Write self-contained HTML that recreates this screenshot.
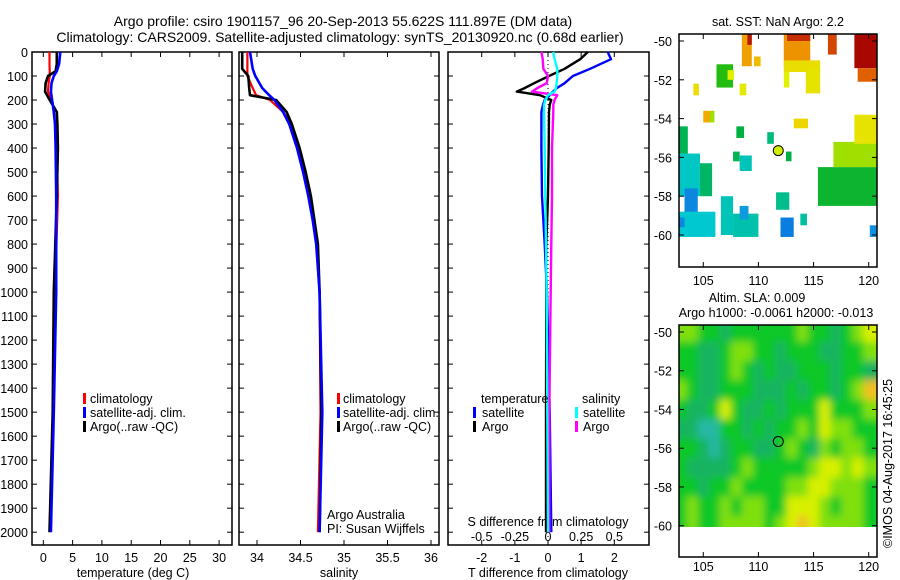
<!DOCTYPE html>
<html><head><meta charset="utf-8"><style>
html,body{margin:0;padding:0;background:#fff}
svg{display:block;font-family:"Liberation Sans",sans-serif}
text{font-size:12.5px;fill:#000}
</style></head><body>
<svg id="fig" width="900" height="580" viewBox="0 0 900 580">
<g id="g"></g>
</svg>
<script>
// ---------- data ----------
const depthT = [0,50,80,100,130,165,200,250,300,400,600,1000,1500,2000];
const tempArgo = [2.3,2.3,2.1,0.8,0.4,0.3,1.1,2.3,2.4,2.5,2.3,1.8,1.6,1.05];
const tempSat  = [2.9,2.7,2.3,1.8,1.4,1.3,1.5,1.8,2.0,2.1,2.2,2.2,1.8,1.3];
const tempClim = [1.05,1.05,1.1,1.1,0.9,0.8,1.5,1.8,2.0,2.3,2.5,2.0,1.7,1.05];
const depthS = [0,70,100,150,180,200,250,300,400,500,600,700,800,1000,1500,2000];
const salArgo = [33.83,33.83,33.9,33.91,33.92,34.22,34.34,34.4,34.49,34.56,34.62,34.66,34.70,34.72,34.74,34.72];
const salSat  = [33.92,33.95,33.98,34.06,34.14,34.2,34.3,34.37,34.46,34.53,34.59,34.64,34.68,34.72,34.75,34.72];
const salClim = [33.89,33.89,33.89,33.95,33.99,34.15,34.3,34.39,34.48,34.55,34.6,34.64,34.68,34.72,34.73,34.70];
const depthD = [0,30,70,100,130,150,165,180,200,220,250,400,600,800,1000,1500,2000];
const dTsat  = [1.8,1.9,1.27,0.75,0.5,0.27,0.15,0.05,-0.1,-0.15,-0.2,-0.2,-0.18,-0.1,-0.03,0.05,0.1];
const dTargo = [1.2,0.97,0.5,0.03,-0.42,-0.7,-0.94,-0.24,0.1,0.05,0.03,0.02,0,-0.05,-0.05,-0.06,-0.06];
const dSsat  = [0.04,0.05,0.07,0.07,0.065,0.06,0.05,0.0,-0.02,-0.03,-0.03,-0.025,-0.02,-0.015,-0.01,-0.005,0];
const dSargo = [-0.05,-0.04,-0.035,0,-0.01,-0.08,-0.12,0.07,0.05,0.04,0.04,0.03,0.03,0.025,0.02,0.01,0.01];
const depthTicks = [0,100,200,300,400,500,600,700,800,900,1000,1100,1200,1300,1400,1500,1600,1700,1800,1900,2000];
const tempTicks = [0,5,10,15,20,25,30];
const salTicks = [34,34.5,35,35.5,36];
const salTickLabels = ["34","34.5","35","35.5","36"];
const dTTicks = [-2,-1,0,1,2];
const dSTicks = [-0.5,-0.25,0,0.25,0.5];
const dSTickLabels = ["-0.5","-0.25","0","0.25","0.5"];
const latTicks = [-50,-52,-54,-56,-58,-60];
const lonTicks = [105,110,115,120];
// SST patches: lon0, lat0, lon1, lat1, value
const sstPatches = [
 [118.7,-49.6,120.7,-51.4,4.6],[119,-51.4,120.7,-52.1,3.8],
 [112.3,-49.6,114.7,-51.3,3.4],[112.6,-49.6,114.7,-50.0,4.2],
 [112.3,-51.0,115.6,-51.6,2.6],[112.3,-51.6,112.8,-52.4,2.3],[114.3,-51.4,115.6,-52.7,2.5],
 [108.5,-49.6,109.4,-51.3,3.3],[109,-49.6,109.4,-50.2,4.4],[109.6,-50.8,110.2,-51.3,3.0],
 [116.3,-49.6,117.1,-50.7,4.0],
 [106.2,-51.2,107.7,-52.4,1.2],[107.2,-51.5,107.8,-52.0,2.3],
 [104.1,-52.2,104.6,-52.8,2.6],[108.3,-52.2,108.9,-52.8,2.4],
 [105.0,-53.6,106.0,-54.2,3.2],[105.6,-53.6,106.0,-54.2,1.8],
 [113.2,-54.0,114.5,-54.5,2.7],
 [108.0,-54.4,108.7,-55.0,0.9],[110.8,-54.7,111.4,-55.3,0.6],[112.5,-55.7,113.0,-56.2,0.9],
 [107.7,-55.7,108.3,-56.2,0.8],[108.3,-55.9,109.4,-56.7,0.2],
 [102.8,-54.4,103.6,-55.9,0.8],
 [102.8,-55.8,104.7,-58.0,0.1],[104.7,-56.3,105.8,-58.0,0.7],[103.3,-57.6,104.5,-59.0,-0.6],
 [102.8,-58.8,106.1,-60.1,0.0],[102.8,-59.1,103.3,-59.6,-0.6],[106.6,-58.0,107.7,-60.0,0.2],
 [107.7,-58.9,110.0,-60.1,0.3],[108.3,-58.5,109.1,-59.2,-0.4],
 [111.6,-57.8,112.8,-58.7,0.5],[112.0,-59.1,113.2,-60.1,-0.7],[113.8,-58.9,114.4,-59.5,0.4],
 [115.4,-56.5,120.7,-58.5,1.0],[116.8,-55.2,120.7,-56.5,1.8],[118.7,-53.8,120.7,-55.3,2.5],
 [120.1,-59.5,120.7,-60.1,-0.5]
];
// SLA grid (rows lat -50..-60, cols lon 103..120), index values
const slaGrid = [
 [ 1, 1, 0, 0,-1, 0, 0, 0, 0, 0, 0, 1, 0, 0,-1, 0, 1, 2],
 [ 0, 0,-1,-1, 0, 1, 1, 0, 0,-1, 0, 0, 0,-1,-1, 0, 0, 1],
 [ 0, 0,-1,-1, 0, 1, 0,-1, 0,-1,-1, 0, 0, 0,-1, 0, 0,-1],
 [ 1, 0,-1,-1, 0, 0, 0,-1,-1,-1, 0,-1, 0, 0,-1, 0, 1, 3],
 [ 0,-1,-1, 0, 2, 0,-1,-1, 0,-1, 0, 0, 0, 2, 0, 0, 0, 1],
 [-1,-1,-2,-2, 0, 0,-1, 0,-1, 0, 0, 1, 0, 2, 1, 1, 0, 0],
 [ 0, 0,-1,-2,-1, 0, 0,-1,-1, 0, 1, 0,-1, 1, 0, 1, 1, 0],
 [ 0,-1,-1,-1,-1, 0, 1, 0, 0, 0, 0, 0, 1, 2, 2, 1, 2, 1],
 [ 0, 0,-1, 0, 0, 1, 0, 0, 0, 0, 1, 1, 2, 2, 1, 1, 1, 0],
 [ 0, 1, 0, 0, 1, 0, 1, 1, 0, 0, 2, 2, 2, 1, 0, 1, 1, 0],
 [ 0, 1, 0, 0, 1, 1, 1, 1, 0, 1, 2, 3, 2, 1, 1, 1, 1, 0]
];
const argoLon = 111.8, argoLat = -55.65, argoSST = 2.2;

// ---------- helpers ----------
const NS="http://www.w3.org/2000/svg";
const G=document.getElementById('g');
function el(tag,attrs,parent){const e=document.createElementNS(NS,tag);for(const k in attrs)e.setAttribute(k,attrs[k]);(parent||G).appendChild(e);return e;}
function txt(s,x,y,anchor,parent,size){const t=el('text',{x:x,y:y,'text-anchor':anchor||'start'},parent);if(size)t.setAttribute('style','font-size:'+size+'px');t.textContent=s;return t;}
const yD = d => 52 + d*0.2401;
const xT = v => 43.3 + v*5.86;
const xS = v => 257 + (v-34)*87;
const xDT = v => 548 + v*33.15;
const xDS = v => 548 + v*132.6;
function frame(x0,y0,x1,y1,name){const r=el('rect',{x:x0,y:y0,width:x1-x0,height:y1-y0,fill:'none',stroke:'#000','stroke-width':1.5});}
function line(xs,ys,fn,col,w,name){const pts=xs.map((v,i)=>fn(v).toFixed(1)+','+yD(ys[i]).toFixed(1)).join(' ');const p=el('polyline',{points:pts,fill:'none',stroke:col,'stroke-width':w,'stroke-linejoin':'round'});}
function depthAxis(x0,x1,labels){depthTicks.forEach(d=>{const y=yD(d);el('line',{x1:x0,y1:y,x2:x0+5,y2:y,stroke:'#000'});el('line',{x1:x1,y1:y,x2:x1-5,y2:y,stroke:'#000'});if(labels){const t=txt(String(d),28,y+5,'end');}});}
function xAxis(vals,labs,fn,yTop,yBot,labelY){vals.forEach((v,i)=>{const x=fn(v);el('line',{x1:x,y1:yBot,x2:x,y2:yBot-5,stroke:'#000'});el('line',{x1:x,y1:yTop,x2:x,y2:yTop+5,stroke:'#000'});if(labelY){const t=txt(labs[i],x,labelY,'middle');}});}
function legendMark(x,y,col){el('rect',{x:x,y:y-10,width:3,height:11,fill:col});}

// ---------- titles ----------
let t=txt('Argo profile: csiro 1901157_96 20-Sep-2013 55.622S 111.897E (DM data)',343,26,'middle',null,14);

t=txt('Climatology: CARS2009. Satellite-adjusted climatology: synTS_20130920.nc (0.68d earlier)',340,42,'middle',null,14);


// ---------- panel 1 temperature ----------
const B=545;
frame(32,52,232,B,'temperature-panel');
depthAxis(32,232,true);
xAxis(tempTicks,tempTicks.map(String),xT,52,B,562);
t=txt('temperature (deg C)',133,577,'middle');
line(tempClim,depthT,xT,'#f00',2.2,'temp-climatology-line');
line(tempArgo,depthT,xT,'#000',2.6,'temp-argo-line');
line(tempSat,depthT,xT,'#00f',2.6,'temp-satellite-line');
[['climatology','#f00'],['satellite-adj. clim.','#00f'],['Argo(..raw -QC)','#000']].forEach((l,i)=>{legendMark(83,403+i*14,l[1]);const tt=txt(l[0],90,403+i*14);});

// ---------- panel 2 salinity ----------
frame(239,52,439,B,'salinity-panel');
depthAxis(239,439,false);
xAxis(salTicks,salTickLabels,xS,52,B,562);
t=txt('salinity',339,577,'middle');
line(salClim,depthS,xS,'#f00',2.2,'sal-climatology-line');
line(salArgo,depthS,xS,'#000',2.6,'sal-argo-line');
line(salSat,depthS,xS,'#00f',2.6,'sal-satellite-line');
[['climatology','#f00'],['satellite-adj. clim.','#00f'],['Argo(..raw -QC)','#000']].forEach((l,i)=>{legendMark(337,403+i*14,l[1]);const tt=txt(l[0],343,403+i*14);});
t=txt('Argo Australia',327,519);
t=txt('PI: Susan Wijffels',327,533);

// ---------- panel 3 differences ----------
frame(448,52,649,B,'difference-panel');
depthAxis(448,649,false);
xAxis(dTTicks,dTTicks.map(String),xDT,52,B,562);
dSTicks.forEach((v,i)=>{const tt=txt(dSTickLabels[i],xDS(v),541,'middle');});
t=txt('S difference from climatology',548,526,'middle');
t=txt('T difference from climatology',548,577,'middle');
el('line',{x1:xDT(0),y1:52,x2:xDT(0),y2:B,stroke:'#000','stroke-dasharray':'1,3'});
line(dTargo,depthD,xDT,'#000',2.4,'dt-argo-line');
line(dTsat,depthD,xDT,'#00f',2.4,'dt-satellite-line');
line(dSargo,depthD,xDS,'#f0f',2.4,'ds-argo-line');
line(dSsat,depthD,xDS,'#0ff',2.4,'ds-satellite-line');
t=txt('temperature',481,403);
t=txt('salinity',582,403);
[['satellite','#00f',473,482],['Argo','#000',473,482],['satellite','#0ff',575,583],['Argo','#f0f',575,583]].forEach((l,i)=>{const y=417+(i%2)*14;legendMark(l[2],y,l[1]);const tt=txt(l[0],l[3],y);});

// ---------- maps ----------
const mx = lon => 679 + (lon-102.8)*11.03;
const sstStops=[[-1,[0,96,224]],[-0.5,[16,144,224]],[0,[0,200,208]],[0.4,[0,192,160]],[0.9,[0,176,64]],[1.3,[48,192,0]],[1.8,[160,224,0]],[2.3,[224,240,0]],[2.8,[240,208,0]],[3.3,[240,160,0]],[3.8,[224,96,0]],[4.3,[192,32,0]],[4.7,[160,0,0]]];
function sstColor(v){if(v<=sstStops[0][0])return 'rgb('+sstStops[0][1].join(',')+')';for(let i=1;i<sstStops.length;i++){if(v<=sstStops[i][0]){const a=sstStops[i-1],b=sstStops[i],f=(v-a[0])/(b[0]-a[0]);return 'rgb('+a[1].map((c,k)=>Math.round(c+(b[1][k]-c)*f)).join(',')+')';}}return 'rgb('+sstStops[sstStops.length-1][1].join(',')+')';}
function mapAxes(top,bot,my,lonLabelY){
 latTicks.forEach(l=>{const y=my(l);el('line',{x1:679,y1:y,x2:684,y2:y,stroke:'#000'});el('line',{x1:877,y1:y,x2:872,y2:y,stroke:'#000'});const tt=txt(String(l),672,y+5,'end');});
 lonTicks.forEach(l=>{const x=mx(l);el('line',{x1:x,y1:bot,x2:x,y2:bot-5,stroke:'#000'});el('line',{x1:x,y1:top,x2:x,y2:top+5,stroke:'#000'});const tt=txt(String(l),x,lonLabelY,'middle');});
}
// SST map
const my1 = lat => 41 + (-50-lat)*19.4;
t=txt('sat. SST: NaN Argo: 2.2',778,26,'middle');
const sstG=el('g',{});
sstPatches.forEach(p=>{const x0=mx(p[0]),x1=mx(p[2]),y0=Math.max(34,my1(p[1])),y1=my1(p[3]);const r=el('rect',{x:x0,y:y0,width:x1-x0,height:y1-y0,fill:sstColor(p[4])},sstG);});
let c=el('circle',{cx:mx(argoLon),cy:my1(argoLat),r:5,fill:sstColor(argoSST),stroke:'#000','stroke-width':1});

frame(679,34,877,267,'sst-map-frame');
mapAxes(34,267,my1,285);

// SLA map
const my2 = lat => 332 + (-50-lat)*19.37;
t=txt('Altim. SLA: 0.009',757,302,'middle');
t=txt('Argo h1000: -0.0061 h2000: -0.013',776,317,'middle');
const slaCols=['#28b8a4','#18b460','#10c828','#80e010','#d8f000','#f0c020'];
const defs=el('defs',{});
const cp=el('clipPath',{id:'slaclip'},defs);el('rect',{x:679,y:325,width:198,height:202},cp);
const f=el('filter',{id:'blur',x:'-10%',y:'-10%',width:'120%',height:'120%'},defs);el('feGaussianBlur',{stdDeviation:4},f);
const slaOuter=el('g',{'clip-path':'url(#slaclip)'});
const slaG=el('g',{filter:'url(#blur)'},slaOuter);
slaGrid.forEach((row,ri)=>{row.forEach((v,ci)=>{const lon=103+ci,lat=-50-ri;let x0=mx(lon-0.5),x1=mx(lon+0.5),y0=my2(lat+0.5),y1=my2(lat-0.5);if(ci===0)x0-=20;if(ci===row.length-1)x1+=20;if(ri===0)y0-=20;if(ri===slaGrid.length-1)y1+=20;const r=el('rect',{x:x0,y:y0,width:x1-x0+0.5,height:y1-y0+0.5,fill:slaCols[v+2]},slaG);});});
el('rect',{x:679,y:527,width:198,height:30,fill:'#fff'});
c=el('circle',{cx:mx(argoLon),cy:my2(argoLat),r:5,fill:'none',stroke:'#000','stroke-width':1});

frame(679,325,877,557,'sla-map-frame');
mapAxes(325,557,my2,571);

t=txt('©IMOS 04-Aug-2017 16:45:25',0,0,'start');
t.setAttribute('transform','translate(892,548) rotate(-90)');

</script>
</body></html>
